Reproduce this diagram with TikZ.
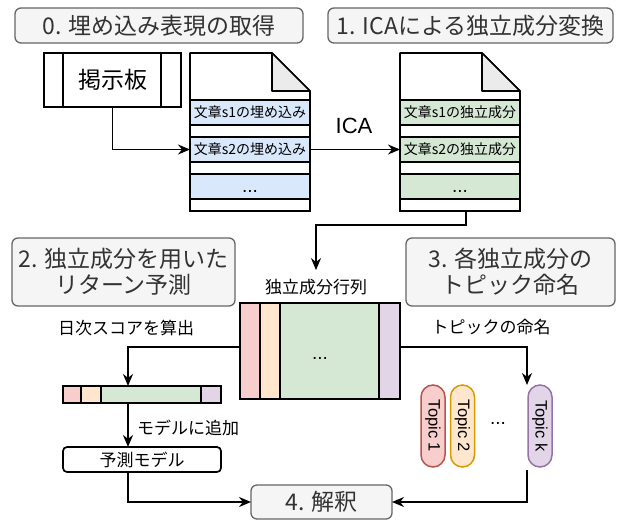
\documentclass[tikz,border=0pt]{standalone}
\usepackage{fontspec}
\setmainfont{Noto Sans CJK JP}
\newfontfamily\lat{Liberation Sans}
\usetikzlibrary{arrows.meta}
\definecolor{tfill}{HTML}{F5F5F5}
\definecolor{tdraw}{HTML}{666666}
\definecolor{ttext}{HTML}{333333}
\definecolor{cblue}{HTML}{DAE8FC}
\definecolor{cgreen}{HTML}{D5E8D4}
\definecolor{cpink}{HTML}{F8CECC}
\definecolor{cpinkd}{HTML}{B85450}
\definecolor{corange}{HTML}{FFE6CC}
\definecolor{coranged}{HTML}{D79B00}
\definecolor{cpurple}{HTML}{E1D5E7}
\definecolor{cpurpled}{HTML}{9673A6}
\definecolor{cfold}{HTML}{EBEBEB}
\begin{document}
\begin{tikzpicture}[x=1pt,y=-1pt,
  every node/.style={inner sep=0pt, outer sep=0pt},
  title/.style={draw=tdraw, fill=tfill, rounded corners=6pt, text=ttext,
    font=\fontsize{23}{26}\selectfont, line width=1.3pt, align=center},
  box/.style={draw, line width=1.7pt},
  rowbox/.style={box, minimum width=120pt},
  lbl/.style={font=\fontsize{17}{20}\selectfont},
  rowtxt/.style={font=\fontsize{14}{16}\selectfont},
  dots/.style={font=\lat\fontsize{19}{20}\selectfont},
  arr/.style={-{Stealth[length=12pt,width=10pt]}, line width=1.6pt},
  pill/.style={rounded corners=12pt, line width=1.5pt, minimum width=82pt,
    minimum height=24pt, rotate=-90, font=\lat\fontsize{16.5}{18}\selectfont}
]
\useasboundingbox (0,0) rectangle (620,520);
\fill[white] (0,0) rectangle (620,520);

% titles
\node[title, minimum width=288pt, minimum height=35pt] (t0) at (159,25.5) {0. 埋め込み表現の取得};
\node[title, minimum width=285pt, minimum height=35pt] (t1) at (470.5,25.5) {1. ICAによる独立成分変換};
\node[title, minimum width=223pt, minimum height=68pt] (t2) at (123.5,272) {2. 独立成分を用いた\\リターン予測};
\node[title, minimum width=209pt, minimum height=68pt] (t3) at (510.5,272) {3. 各独立成分の\\トピック命名};
\node[title, minimum width=141pt, minimum height=34pt] (t4) at (321.5,502) {4. 解釈};

% board
\node[box, fill=white, minimum width=137pt, minimum height=54pt,
  font=\fontsize{23}{26}\selectfont] (board) at (112.5,80) {掲示板};
\draw[line width=1.7pt] (63,53) -- (63,107) (161,53) -- (161,107);

% document 1
\node[minimum width=120pt, minimum height=158pt] (doc1) at (250,132) {};
\draw[box, fill=white, line join=round] (190,53) -- (272,53) -- (310,91) -- (310,211) -- (190,211) -- cycle;
\draw[box, fill=cfold, line join=round] (272,53) -- (272,91) -- (310,91) -- cycle;
\node[rowbox, fill=cblue, minimum height=25pt, rowtxt] (d1a) at (250,112.5) {文章s1の埋め込み};
\node[rowbox, minimum height=12pt] (d1aw) at (250,131) {};
\node[rowbox, fill=cblue, minimum height=25pt, rowtxt] (d1b) at (250,149.5) {文章s2の埋め込み};
\node[rowbox, minimum height=12pt] (d1bw) at (250,168) {};
\node[rowbox, fill=cblue, minimum height=25pt] (d1c) at (250,186.5) {};
\node[rowbox, minimum height=12pt] (d1cw) at (250,205) {};
\node[dots] (d1dots) at (250,191) {...};

% document 2
\node[minimum width=120pt, minimum height=158pt] (doc2) at (460,132) {};
\draw[box, fill=white, line join=round] (400,53) -- (482,53) -- (520,91) -- (520,211) -- (400,211) -- cycle;
\draw[box, fill=cfold, line join=round] (482,53) -- (482,91) -- (520,91) -- cycle;
\node[rowbox, fill=cgreen, minimum height=25pt, rowtxt] (d2a) at (460,112.5) {文章s1の独立成分};
\node[rowbox, minimum height=12pt] (d2aw) at (460,131) {};
\node[rowbox, fill=cgreen, minimum height=25pt, rowtxt] (d2b) at (460,149.5) {文章s2の独立成分};
\node[rowbox, minimum height=12pt] (d2bw) at (460,168) {};
\node[rowbox, fill=cgreen, minimum height=25pt] (d2c) at (460,186.5) {};
\node[rowbox, minimum height=12pt] (d2cw) at (460,205) {};
\node[dots] (d2dots) at (460,191) {...};

% ICA
\node[font=\lat\fontsize{22}{24}\selectfont] (ica) at (354,126) {ICA};

% matrix
\node[lbl] (mlabel) at (316,287) {独立成分行列};
\draw[box, fill=cpink] (240,303) rectangle (260,399);
\draw[box, fill=corange] (260,303) rectangle (280,399);
\draw[box, fill=cgreen] (280,303) rectangle (379,399);
\draw[box, fill=cpurple] (379,303) rectangle (400,399);
\node[minimum width=160pt, minimum height=96pt] (mat) at (320,351) {};
\node[dots] (mdots) at (320,358) {...};

% left side
\node[lbl] (score) at (126,328) {日次スコアを算出};
\draw[box, fill=cpink] (63,386) rectangle (81,403);
\draw[box, fill=corange] (81,386) rectangle (101,403);
\draw[box, fill=cgreen] (101,386) rectangle (201,403);
\draw[box, fill=cpurple] (201,386) rectangle (221,403);
\node[minimum width=158pt, minimum height=17pt] (bar) at (142,394.5) {};
\node[lbl, anchor=west] (addlbl) at (137,428) {モデルに追加};
\node[box, fill=white, rounded corners=4pt, minimum width=158pt, minimum height=25pt, lbl] (model) at (142,459.5) {予測モデル};

% right side
\node[lbl] (naming) at (491,327) {トピックの命名};
\node[pill, draw=cpinkd, fill=cpink] (tp1) at (433,426) {Topic 1};
\node[pill, draw=coranged, fill=corange] (tp2) at (462.5,426) {Topic 2};
\node[pill, draw=cpurpled, fill=cpurple] (tpk) at (540,426) {Topic k};
\node[dots] (tdots) at (498,423) {...};
\coordinate (tkin) at (527,385);
\coordinate (tkout) at (527,470);
\coordinate (bend) at (466,225);

% connectors
\draw[arr] (board.south) |- (d1b.west);
\draw[arr] (d1b.east) -- (d2b.west);
\draw[arr] ([xshift=6pt]doc2.south) -- (bend) -| ([yshift=9pt]mlabel.north);
\draw[arr] ([yshift=4pt]mat.west) -| ([xshift=-14pt]bar.north);
\draw[arr] ([xshift=-14pt]bar.south) -- ([xshift=-14pt]model.north);
\draw[arr] ([xshift=-14pt]model.south) |- (t4.west);
\draw[arr] ([yshift=4pt]mat.east) -| (tkin);
\draw[arr] (tkout) |- (t4.east);
\end{tikzpicture}
\end{document}
